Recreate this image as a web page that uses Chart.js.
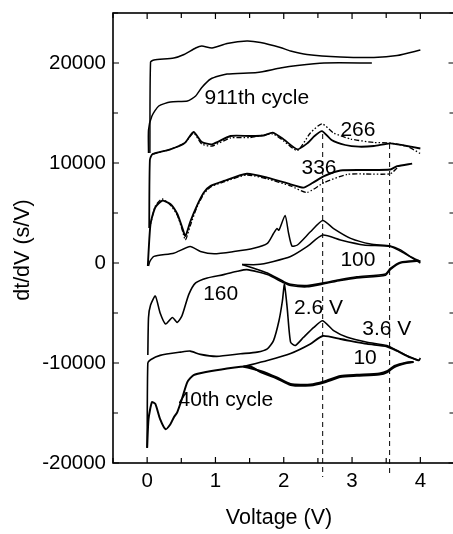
<!DOCTYPE html>
<html>
<head>
<meta charset="utf-8">
<script src="https://cdn.jsdelivr.net/npm/chart.js@4.4.0/dist/chart.umd.min.js"></script>
<style>
  html, body { margin: 0; padding: 0; background: #fff; overflow: hidden; }
  #wrap { width: 460px; height: 534px; }
</style>
</head>
<body>
<div id="wrap"><canvas id="dtdv" width="460" height="534"></canvas></div>
<script>
// Voltage (V) and dt/dV (s/V), one pair of arrays per curve

// 911th cycle
const c911ChargeV = [0.04, 0.05, 0.1, 0.39, 0.54, 0.71, 0.8, 0.95, 1.17, 1.46, 1.66, 1.95, 2.1, 2.34, 2.83, 3.32, 3.66, 4.0];
const c911ChargeY = [11000, 20100, 20300, 20500, 20850, 21500, 21700, 21500, 21950, 22200, 22050, 21550, 21200, 20850, 20600, 20550, 20750, 21300];
const c911DischV = [3.29, 2.59, 2.2, 1.95, 1.61, 1.17, 0.93, 0.8, 0.71, 0.59, 0.34, 0.17, 0.07, 0.02, 0.02];
const c911DischY = [20000, 20000, 19750, 19500, 19050, 18900, 18400, 17550, 16700, 16200, 16100, 15700, 14700, 13300, 11000];

// 336 (solid) and 266 (dash-dot), charge
const c336ChargeV = [0.03, 0.04, 0.08, 0.34, 0.55, 0.68, 0.8, 0.95, 1.22, 1.51, 1.7, 1.84, 2.0, 2.2, 2.35, 2.45, 2.56, 2.7, 2.9, 3.1, 3.32, 3.56, 3.76, 4.0];
const c336ChargeY = [3500, 10300, 10900, 11370, 12000, 13100, 12100, 11870, 12700, 12700, 12750, 13030, 12360, 11370, 12000, 12700, 13190, 12300, 11800, 11630, 11700, 11970, 11750, 11450];
const c266ChargeV = [0.08, 0.34, 0.55, 0.68, 0.8, 0.95, 1.22, 1.51, 1.84, 2.0, 2.2, 2.39, 2.56, 2.73, 2.98, 3.32, 3.56, 3.81, 4.0];
const c266ChargeY = [10900, 11370, 12000, 13000, 11900, 11700, 12500, 12550, 12900, 12200, 11250, 13000, 13920, 13000, 12400, 12050, 12000, 11650, 10950];

// 336 (solid) and 266 (dash-dot), discharge
const c336DischV = [3.88, 3.66, 3.56, 3.2, 2.83, 2.59, 2.42, 2.29, 2.1, 1.76, 1.46, 1.12, 0.93, 0.83, 0.73, 0.63, 0.56, 0.51, 0.44, 0.34, 0.22, 0.12, 0.05, 0.02, 0.01];
const c336DischY = [9940, 9680, 9350, 9300, 9250, 8690, 8000, 7540, 7870, 8530, 8920, 8200, 7710, 7050, 5740, 4100, 2700, 3610, 4920, 5900, 6230, 5580, 3940, 1000, -300];
const c266DischV = [3.66, 3.56, 3.2, 2.93, 2.59, 2.34, 2.1, 1.76, 1.46, 1.12, 0.93, 0.83, 0.73, 0.63, 0.56, 0.51, 0.44, 0.34, 0.22, 0.12, 0.05];
const c266DischY = [9500, 8920, 8900, 8860, 8040, 7050, 7710, 8400, 8800, 8100, 7600, 6900, 5600, 3700, 2300, 3400, 4800, 5800, 6400, 5700, 3900];

// 160th and 100th cycles
const c160ChargeV = [0.02, 0.04, 0.1, 0.39, 0.63, 0.78, 0.98, 1.27, 1.56, 1.76, 1.85, 1.9, 1.93, 2.02, 2.07, 2.12, 2.2, 2.39, 2.57, 2.73, 2.98, 3.27, 3.56, 3.71, 3.85, 4.0];
const c160ChargeY = [-300, 160, 660, 980, 1640, 1150, 920, 1150, 1480, 1970, 2950, 3440, 3280, 4760, 3000, 1700, 1800, 3120, 4260, 3440, 2460, 1900, 1710, 1310, 660, 160];
const c100ChargeV = [1.39, 1.61, 1.85, 2.1, 2.34, 2.57, 2.83, 3.17, 3.56, 3.76, 4.0];
const c100ChargeY = [-150, -160, 160, 650, 1640, 2790, 2300, 1800, 1640, 980, 0];
const c160DischV = [4.0, 3.98, 3.71, 3.56, 3.49, 3.07, 2.83, 2.59, 2.34, 2.1, 2.0, 1.76, 1.46, 1.32, 1.12, 0.88, 0.71, 0.61, 0.51, 0.44, 0.37, 0.27, 0.19, 0.12, 0.05, 0.02, 0.01];
const c160DischY = [160, 200, 0, -660, -1220, -1490, -1750, -2080, -2380, -2250, -1980, -1160, -660, -830, -1160, -1490, -1980, -3140, -5280, -5940, -5450, -6100, -5000, -3300, -4200, -5450, -9200];
const c100DischV = [3.98, 3.71, 3.56, 3.49, 3.07, 2.83, 2.59, 2.34, 2.1, 2.0, 1.76, 1.55, 1.39];
const c100DischY = [250, 80, -550, -1100, -1380, -1650, -1980, -2250, -2130, -1860, -1000, -500, -150];

// 40th and 10th cycles
const c40ChargeV = [0.0, 0.01, 0.05, 0.19, 0.49, 0.63, 0.78, 1.02, 1.37, 1.61, 1.76, 1.85, 1.93, 1.98, 2.01, 2.05, 2.1, 2.17, 2.29, 2.44, 2.57, 2.73, 2.93, 3.22, 3.51, 3.66, 3.85, 3.98, 4.0];
const c40ChargeY = [-18500, -10000, -9670, -9240, -8910, -8810, -9140, -9340, -9080, -8910, -8580, -7760, -5780, -3800, -2150, -4460, -7920, -8250, -7430, -6440, -5780, -6770, -7430, -7920, -8250, -8750, -9410, -9740, -9500];
const c10ChargeV = [1.41, 1.76, 2.1, 2.39, 2.57, 2.83, 3.22, 3.51, 3.66, 3.85, 3.98];
const c10ChargeY = [-10350, -9750, -9050, -8100, -7300, -7600, -8090, -8350, -8800, -9450, -9750];
const c40DischV = [3.9, 3.8, 3.62, 3.52, 3.4, 3.07, 2.83, 2.59, 2.39, 2.1, 1.9, 1.66, 1.51, 1.37, 1.17, 0.88, 0.68, 0.59, 0.51, 0.44, 0.39, 0.34, 0.27, 0.19, 0.12, 0.07, 0.02, 0.0];
const c40DischY = [-9900, -10000, -10400, -10900, -11150, -11280, -11400, -11960, -12250, -12200, -11550, -10900, -10350, -10370, -10540, -10880, -11210, -11890, -13580, -14930, -15440, -16120, -16620, -15610, -14090, -13920, -15610, -18480];
const c10DischV = [3.9, 3.8, 3.62, 3.52, 3.4, 3.07, 2.83, 2.59, 2.39, 2.1, 1.9, 1.66, 1.41];
const c10DischY = [-9900, -9950, -10300, -10800, -11050, -11180, -11300, -11850, -12150, -12100, -11450, -10800, -10350];

// dashed markers at 2.6 V and 3.6 V (they run a little past the axis)
const markerV = [2.57, 3.55];
const markerTop = [12900, 11900];
const markerBottom = -21400;

const xTicks = [0, 1, 2, 3, 4];
const yTicks = [-20000, -10000, 0, 10000, 20000];

const FONT = '"Liberation Sans", Arial, Helvetica, sans-serif';

function pts(vs, ys) {
    return vs.map((v, i) => ({ x: v, y: ys[i] }));
}

function curve(vs, ys, width, dash) {
    return {
        data: pts(vs, ys),
        borderColor: '#000',
        borderWidth: width,
        borderDash: dash || [],
        pointRadius: 0,
        showLine: true,
        fill: false,
        tension: 0.2
    };
}

const dashDot = [5, 2, 1.5, 2, 1.5, 2];

const datasets = [
    curve(c911ChargeV, c911ChargeY, 1.5),
    curve(c911DischV, c911DischY, 1.5),
    curve(c336ChargeV, c336ChargeY, 1.8),
    curve(c266ChargeV, c266ChargeY, 1.3, dashDot),
    curve(c336DischV, c336DischY, 1.9),
    curve(c266DischV, c266DischY, 1.3, dashDot),
    curve(c160ChargeV, c160ChargeY, 1.5),
    curve(c100ChargeV, c100ChargeY, 1.5),
    curve(c160DischV, c160DischY, 1.6),
    curve(c100DischV, c100DischY, 1.6),
    curve(c40ChargeV, c40ChargeY, 1.6),
    curve(c10ChargeV, c10ChargeY, 1.8),
    curve(c40DischV, c40DischY, 2.0),
    curve(c10DischV, c10DischY, 2.0)
];

markerV.forEach((v, i) => {
    const d = curve([v, v], [markerTop[i], markerBottom], 1, [5, 4]);
    d.tension = 0;
    d.clip = false;
    datasets.push(d);
});

// text placed on the plot (in data units, left / baseline)
const notes = [
    { text: '911th cycle', x: 0.84, y: 15900 },
    { text: '266', x: 2.83, y: 12700 },
    { text: '336', x: 2.26, y: 8900 },
    { text: '100', x: 2.83, y: -250 },
    { text: '160', x: 0.82, y: -3700 },
    { text: '2.6 V', x: 2.15, y: -5100 },
    { text: '3.6 V', x: 3.15, y: -7200 },
    { text: '10', x: 3.02, y: -10100 },
    { text: '40th cycle', x: 0.46, y: -14300 }
];

// frame with inward ticks, labels on the plot and axis titles
const framePlugin = {
    id: 'frame',
    afterDatasetsDraw(chart) {
        const { ctx, chartArea: a, scales } = chart;
        const x = scales.x, y = scales.y;
        ctx.save();
        ctx.strokeStyle = '#000';
        ctx.lineWidth = 1.6;
        ctx.strokeRect(a.left, a.top, a.right - a.left, a.bottom - a.top);

        ctx.lineWidth = 1.2;
        ctx.beginPath();
        for (let k = -1; k <= 9; k++) {
            const v = k * 0.5;
            const px = x.getPixelForValue(v);
            const len = k % 2 === 0 ? 6 : 5;
            ctx.moveTo(px, a.bottom); ctx.lineTo(px, a.bottom - len);
            ctx.moveTo(px, a.top); ctx.lineTo(px, a.top + len);
        }
        for (let v = -20000; v <= 25000; v += 5000) {
            const py = y.getPixelForValue(v);
            const len = v % 10000 === 0 ? 6 : 5;
            ctx.moveTo(a.left, py); ctx.lineTo(a.left + len, py);
            ctx.moveTo(a.right, py); ctx.lineTo(a.right - len, py);
        }
        ctx.stroke();

        ctx.fillStyle = '#000';
        ctx.font = '21px ' + FONT;
        ctx.textAlign = 'left';
        ctx.textBaseline = 'alphabetic';
        notes.forEach(n => {
            ctx.fillText(n.text, x.getPixelForValue(n.x), y.getPixelForValue(n.y));
        });

        ctx.font = '21.5px ' + FONT;
        ctx.textAlign = 'center';
        ctx.textBaseline = 'middle';
        ctx.fillText('Voltage (V)', 279, 518);
        ctx.translate(23, 250);
        ctx.rotate(-Math.PI / 2);
        ctx.fillText('dt/dV (s/V)', 0, 0);
        ctx.restore();
    }
};

new Chart(document.getElementById('dtdv').getContext('2d'), {
    type: 'scatter',
    data: { datasets: datasets },
    options: {
        responsive: false,
        animation: false,
        layout: { padding: { top: 13, right: 5.5, left: 0, bottom: 0 } },
        plugins: {
            legend: { display: false },
            tooltip: { enabled: false }
        },
        scales: {
            x: {
                type: 'linear',
                min: -0.5,
                max: 4.5,
                afterBuildTicks: s => { s.ticks = xTicks.map(v => ({ value: v })); },
                afterFit: s => { s.height = 71; s.paddingLeft = 0; s.paddingRight = 0; },
                grid: { display: false, drawTicks: false },
                border: { display: false },
                ticks: { color: '#000', font: { family: FONT, size: 20.5 }, padding: 6, callback: v => String(v) }
            },
            y: {
                type: 'linear',
                min: -20000,
                max: 25000,
                afterBuildTicks: s => { s.ticks = yTicks.map(v => ({ value: v })); },
                afterFit: s => { s.width = 113; s.paddingTop = 0; s.paddingBottom = 0; },
                grid: { display: false, drawTicks: false },
                border: { display: false },
                ticks: { color: '#000', font: { family: FONT, size: 20.5 }, padding: 7, callback: v => String(v) }
            }
        }
    },
    plugins: [framePlugin]
});
</script>
</body>
</html>
